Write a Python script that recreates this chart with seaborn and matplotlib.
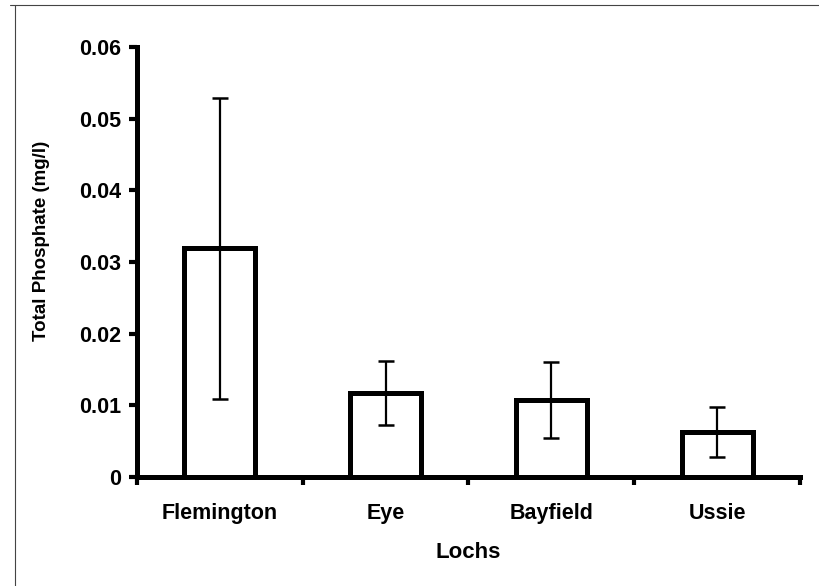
import matplotlib
matplotlib.use("Agg")
import matplotlib.pyplot as plt
from matplotlib.lines import Line2D
import seaborn as sns
import pandas as pd

# Mean total phosphate per loch with error half-widths
lochs = ["Flemington", "Eye", "Bayfield", "Ussie"]
phosphate = [0.0319, 0.0117, 0.0107, 0.0063]
phosphate_err = [0.0210, 0.0045, 0.0053, 0.0035]
y_ticks = [0, 0.01, 0.02, 0.03, 0.04, 0.05, 0.06]
y_tick_labels = ["0", "0.01", "0.02", "0.03", "0.04", "0.05", "0.06"]

df = pd.DataFrame({"Loch": lochs, "TP": phosphate})

sns.set_theme(style="white")
plt.rcParams["font.family"] = ["Liberation Sans", "DejaVu Sans"]
plt.rcParams["font.weight"] = "bold"
for key in ("text.color", "axes.labelcolor", "xtick.color", "ytick.color"):
    plt.rcParams[key] = "black"

fig = plt.figure(figsize=(8.19, 5.86), dpi=100)
ax = fig.add_axes([0.167, 0.186, 0.81, 0.734])

sns.barplot(data=df, x="Loch", y="TP", ax=ax, color="white",
            edgecolor="black", linewidth=3.6, width=0.43, errorbar=None)
ax.errorbar(range(len(lochs)), phosphate, yerr=phosphate_err, fmt="none",
            ecolor="black", elinewidth=1.6, capsize=5.5, capthick=1.8, zorder=5)

ax.set_xlim(-0.5, len(lochs) - 0.5)
ax.set_ylim(0, 0.06)
ax.set_yticks(y_ticks)
ax.set_yticklabels(y_tick_labels)
ax.set_xticks(range(len(lochs)))
ax.set_xticklabels(lochs)
ax.set_xticks([i - 0.5 for i in range(len(lochs) + 1)], minor=True)

for side in ("top", "right"):
    ax.spines[side].set_visible(False)
for side in ("left", "bottom"):
    ax.spines[side].set_linewidth(3.6)
    ax.spines[side].set_color("black")

ax.tick_params(axis="y", which="major", direction="out", length=5.5, width=3,
               labelsize=15.5, pad=6, left=True)
ax.tick_params(axis="x", which="major", length=0, labelsize=15.5, pad=19)
ax.tick_params(axis="x", which="minor", direction="out", length=6, width=3,
               bottom=True)
for lbl in ax.get_xticklabels() + ax.get_yticklabels():
    lbl.set_fontweight("bold")

ax.set_xlabel("Lochs", fontsize=16, fontweight="bold", labelpad=13)
ax.set_ylabel("Total Phosphate (mg/l)", fontsize=13.5, fontweight="bold")
ax.yaxis.label.set_va("center")
ax.yaxis.set_label_coords(42 / 819, 1 - 241 / 586, transform=fig.transFigure)

# thin page frame along the top and left edges
fig.add_artist(Line2D([10 / 819, 1.0], [1 - 5 / 586, 1 - 5 / 586],
                      transform=fig.transFigure, color="#444444", linewidth=0.8))
fig.add_artist(Line2D([15 / 819, 15 / 819], [0.0, 1 - 5 / 586],
                      transform=fig.transFigure, color="#444444", linewidth=0.8))

fig.savefig("out.png", dpi=100)
